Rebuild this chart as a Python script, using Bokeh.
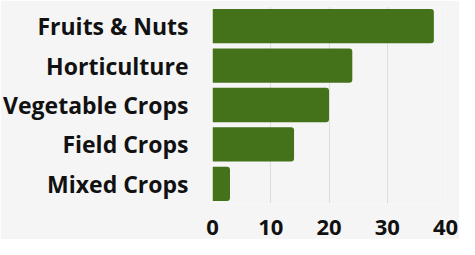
from bokeh.plotting import figure
from bokeh.models import FactorRange, Range1d, ColumnDataSource
from bokeh.embed import file_html
from bokeh.resources import INLINE

categories = ["Fruits & Nuts", "Horticulture", "Vegetable Crops", "Field Crops", "Mixed Crops"]
values = [38, 24, 20, 14, 3]
x_ticks = [0, 10, 20, 30, 40]

BG = "#f5f5f5"
BAR = "#43721a"

src = ColumnDataSource(dict(cat=categories, val=values))

p = figure(
    width=459, height=239,
    y_range=FactorRange(factors=list(reversed(categories)), range_padding=0),
    x_range=Range1d(0, 40),
    output_backend="svg", toolbar_location=None,
    background_fill_color=BG, border_fill_color=BG,
    min_border_left=0, min_border_right=14, min_border_top=6, min_border_bottom=36,
)
p.outline_line_color = None

p.hbar(y="cat", right="val", left=0, height=0.87, source=src,
       fill_color=BAR, line_color=None, border_radius=(0, 3, 3, 0))

p.ygrid.grid_line_color = None
p.xgrid.grid_line_color = "#dddddd"
p.xgrid.grid_line_width = 1
p.xaxis.ticker = x_ticks

for ax in (p.xaxis, p.yaxis):
    ax.axis_line_color = None
    ax.major_tick_line_color = None
    ax.minor_tick_line_color = None
    ax.major_label_text_font = "Open Sans"
    ax.major_label_text_font_style = "bold"
    ax.major_label_text_color = "#111111"

p.yaxis.major_label_text_font_size = "23px"
p.yaxis.major_label_standoff = 18
p.xaxis.major_label_text_font_size = "22px"
p.xaxis.major_label_standoff = 10

open("out.html", "w").write(file_html(p, INLINE))
